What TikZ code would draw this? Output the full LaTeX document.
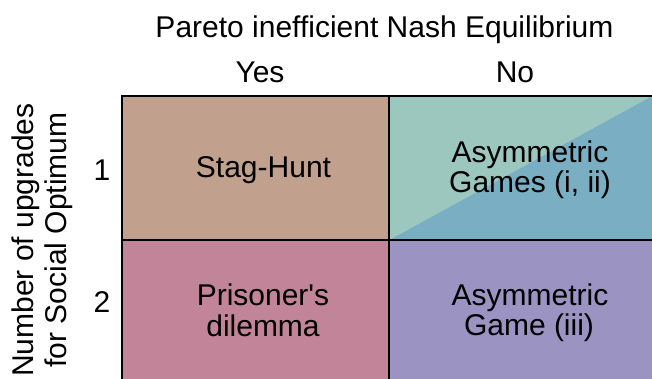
\documentclass[tikz,border=0pt]{standalone}
\usepackage{fontspec}
\setmainfont{Liberation Sans}[Ligatures=TeXOff]
\definecolor{stag}{HTML}{C1A18E}
\definecolor{tealL}{HTML}{9BC7BE}
\definecolor{blueC}{HTML}{7AAEC2}
\definecolor{pinkC}{HTML}{C28499}
\definecolor{purpC}{HTML}{9B93C2}
\begin{document}
\begin{tikzpicture}[x=1pt,y=-1pt,
  lbl/.style={anchor=base, inner sep=0pt, font=\fontsize{30}{30}\selectfont},
  gridline/.style={line width=2.8pt, black}]
\useasboundingbox (0,0) rectangle (652,378);
\clip (0,0) rectangle (652,378);
% cells
\fill[stag] (122,96) rectangle (389,240);
\fill[tealL] (389,240) -- (389,96) -- (652,96) -- cycle;
\fill[blueC] (389,240) -- (652,96) -- (672,96) -- (672,240) -- cycle;
\fill[pinkC] (122,240) rectangle (389,392);
\fill[purpC] (389,240) rectangle (672,392);
% grid
\coordinate (bl) at (122,392);
\coordinate (tl) at (122,96);
\coordinate (tr) at (672,96);
\coordinate (mt) at (389,96);
\coordinate (mb) at (389,392);
\coordinate (ml) at (122,240);
\coordinate (mr) at (672,240);
\draw[gridline] (bl) -- (tl) -- (tr);
\draw[gridline] (mt) -- (mb);
\draw[gridline] (ml) -- (mr);
% headers
\node[lbl] (title) at (384.5,37) {Pareto inefficient Nash Equilibrium};
\node[lbl] (yes) at (260,82) {Yes};
\node[lbl] (no) at (515,82) {No};
\node[lbl] (one) at (102,180) {1};
\node[lbl] (two) at (102,312) {2};
\node[lbl, rotate=90] (ylabA) at (33,240) {Number of upgrades};
\node[lbl, rotate=90] (ylabB) at (66,240) {for Social Optimum};
% cell texts
\node[lbl] (sh) at (263.5,177) {Stag-Hunt};
\node[lbl] (agA) at (530,162) {Asymmetric};
\node[lbl] (agB) at (530,192) {Games (i, ii)};
\node[lbl] (pdA) at (263,305) {Prisoner's};
\node[lbl] (pdB) at (263,336) {dilemma};
\node[lbl] (ag3A) at (530,305) {Asymmetric};
\node[lbl] (ag3B) at (529,335) {Game (iii)};
\end{tikzpicture}
\end{document}
